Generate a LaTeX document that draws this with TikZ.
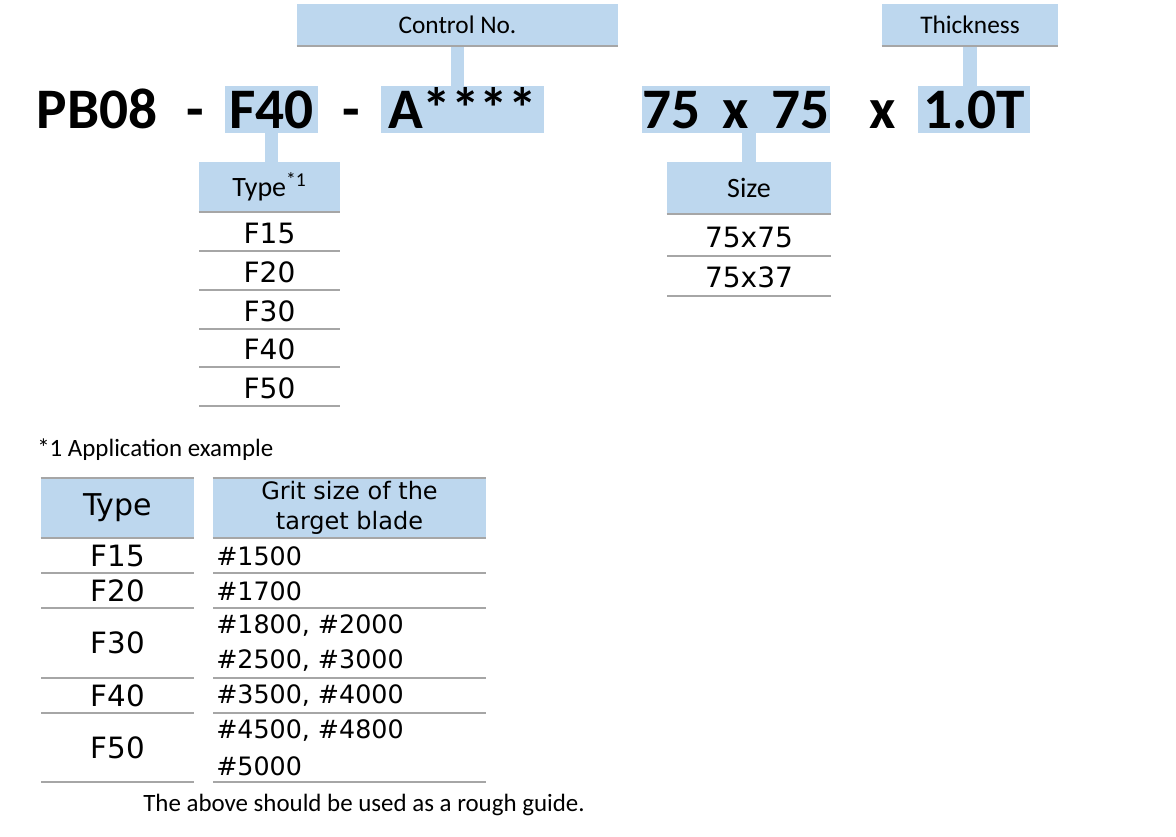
\documentclass[tikz,border=0pt]{standalone}
\usepackage{fontspec}
\setmainfont{Carlito}
\newfontfamily\valfont{DejaVu Sans}
\usepackage{tikz}
\usetikzlibrary{positioning}
\definecolor{hilite}{HTML}{BDD7EE}
\definecolor{rulegray}{HTML}{A6A6A6}

\begin{document}
\begin{tikzpicture}[x=0.75pt,y=-0.75pt, inner sep=0pt]

        \tikzstyle{code}=[font=\fontsize{43}{43}\bfseries\selectfont, text height=28pt, text depth=0pt, minimum height=35.25pt]
        \tikzstyle{codebox}=[code, fill=hilite]
        \tikzstyle{label}=[fill=hilite, font=\fontsize{19}{21}\selectfont]
        \tikzstyle{hdr}=[fill=hilite, font=\fontsize{21}{23}\selectfont]
        \tikzstyle{stem}=[draw=hilite, line width=10pt]
        \tikzstyle{rowline}=[draw=rulegray, line width=1.5pt]
        \tikzstyle{val}=[font=\valfont\fontsize{21}{23}\selectfont]
        \tikzstyle{grit}=[font=\valfont\fontsize{19}{21}\selectfont]
        \tikzstyle{remark}=[font=\fontsize{18.7}{21}\selectfont]

        \useasboundingbox (0,0) rectangle (1176,836);

        % part number
        \node[code]    (pb)   at (97,109.5)   {PB08};
        \node[code]    (d1)   at (195,109.5)  {-};
        \node[codebox, minimum width=69.75pt]  (f40)  at (271.5,109.5) {F40};
        \node[code]    (d2)   at (351,109.5)  {-};
        \node[codebox, minimum width=122.25pt] (anum) at (462.5,109.5) {A****};
        \node[codebox, minimum width=138pt]    (dim)  at (736,109.5)   {75\hspace{17pt}x\hspace{17pt}75};
        \node[code]    (xx)   at (883,109.5)  {x};
        \node[codebox, minimum width=84pt]     (thk)  at (974,109.5)   {1.0T};

        % labels
        \node[label, minimum width=240.75pt, minimum height=31.5pt] (ctrl)  at (457.5,25) {Control No.};
        \node[label, minimum width=132pt, minimum height=31.5pt]    (thick) at (970,25)   {Thickness};
        \node[hdr, minimum width=105.75pt, minimum height=37.5pt]   (typehdr) at (269.5,187) {Type\textsuperscript{*1}};
        \node[hdr, minimum width=123pt, minimum height=39pt]        (sizehdr) at (749,188)  {Size};

        \draw[stem] (ctrl.south) -- (ctrl.south |- anum.north);
        \draw[stem] (thick.south) -- (thick.south |- thk.north);
        \draw[stem] (f40.south) -- (f40.south |- typehdr.north);
        \draw[stem] (sizehdr.north) -- (sizehdr.north |- dim.south);

        \foreach \n in {ctrl,thick,typehdr,sizehdr}
            \draw[rowline] (\n.south west) -- (\n.south east);

        % type list
        \foreach \t/\y in {F15/233,F20/272,F30/311,F40/349,F50/388} {
            \node[val] (type\t) at (269.5,\y) {\t};
            \draw[rowline] (199,\y+18) -- (340,\y+18);
        }

        % size list
        \foreach \s/\y in {75x75/237,75x37/277} {
            \node[val] (size\s) at (749,\y) {\s};
            \draw[rowline] (667,\y+19) -- (831,\y+19);
        }

        % application example
        \node[remark, anchor=west] (note) at (37,450) {*1 Application example};

        \node[fill=hilite, minimum width=114.75pt, minimum height=45pt, font=\valfont\fontsize{22.5}{24}\selectfont] (apptype) at (117.5,508) {Type};
        \node[fill=hilite, minimum width=204.75pt, minimum height=45pt, align=center,
              font=\valfont\fontsize{18}{22}\selectfont] (appgrit) at (349.5,508) {Grit size of the\\target blade};
        \foreach \n in {apptype,appgrit} {
            \draw[rowline] (\n.north west) -- (\n.north east);
            \draw[rowline] (\n.south west) -- (\n.south east);
        }

        \foreach \t/\y in {F15/556,F20/591,F30/643,F40/696,F50/748}
            \node[val, font=\valfont\fontsize{22}{24}\selectfont] (app\t) at (118,\y) {\t};
        \foreach \g/\y in {{\#1500}/556,{\#1700}/591,{\#1800,\hspace{6pt}\#2000}/626,{\#2500,\hspace{6pt}\#3000}/661,
                           {\#3500,\hspace{6pt}\#4000}/696,{\#4500,\hspace{6pt}\#4800}/731,{\#5000}/766}
            \node[grit, anchor=west] at (216,\y) {\g};
        \foreach \y in {573,608,678,713,782} {
            \draw[rowline] (41,\y) -- (194,\y);
            \draw[rowline] (213,\y) -- (486,\y);
        }

        \node[remark] (guide) at (364,805) {The above should be used as a rough guide.};

\end{tikzpicture}
\end{document}
